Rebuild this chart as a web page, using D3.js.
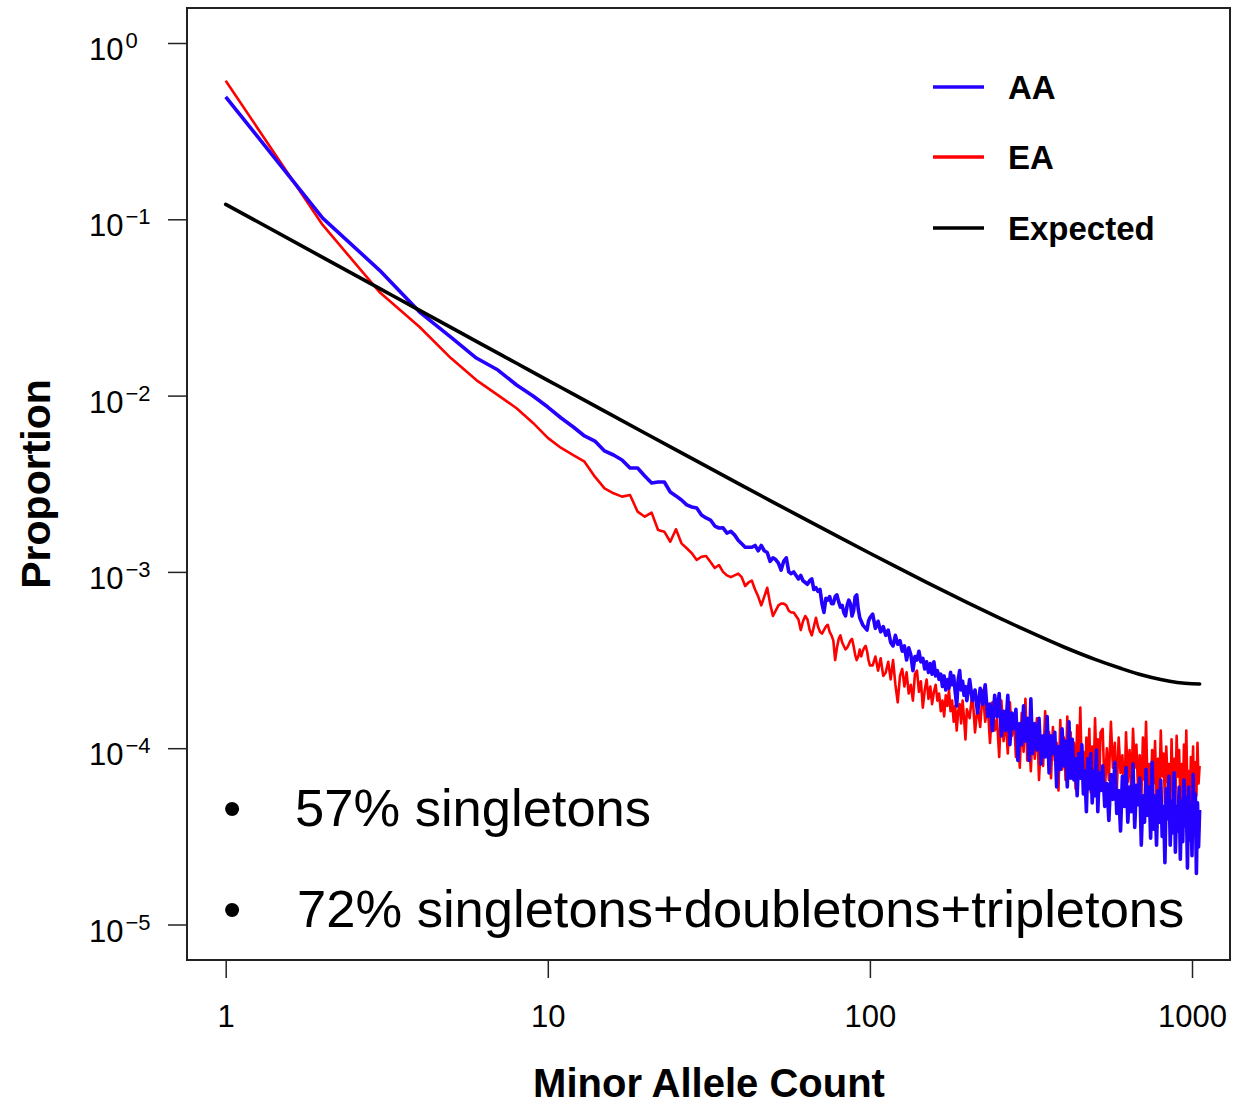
<!DOCTYPE html>
<html>
<head>
<meta charset="utf-8">
<script src="https://cdn.jsdelivr.net/npm/d3@7"></script>
<style>
  html, body { margin: 0; padding: 0; background: #fff; }
  svg { display: block; }
</style>
</head>
<body>
<svg id="chart" width="1234" height="1107"></svg>
<script>
// Minor allele counts shared by the two observed spectra
const counts = [
  1,2,3,4,5,6,7,8,9,10,11,12,13,14,15,16,17,18,19,20,21,22,23,24,25,26,27,28,29,30,31,32,33,34,
  35,36,37,38,39,40,41,42,43,44,45,46,47,48,49,50,51,52,53,54,55,56,57,58,59,60,61,62,63,64,
  65,66,67,68,69,70,71,72,73,74,75,76,77,78,79,80,81,82,83,84,85,86,87,88,89,90,91,92,93,94,
  95,96,97,98,99,100,
  102,104,106,108,110,112,114,116,118,120,122,124,126,128,130,132,134,136,138,140,
  142,144,146,148,150,152,154,156,158,160,162,164,166,168,170,172,174,176,178,180,
  182,184,186,188,190,192,194,196,198,200,
  204,208,212,216,220,224,228,232,236,240,244,248,252,256,260,264,268,272,276,280,
  284,288,292,296,300,304,308,312,316,320,
  325,330,335,340,345,350,355,360,365,370,375,380,385,390,395,400,405,410,415,420,
  425,430,435,440,445,450,455,460,465,470,475,480,485,490,495,500,505,510,515,520,
  528,536,544,552,560,568,576,584,592,600,608,616,624,632,640,648,656,664,672,680,
  688,696,704,712,720,728,736,744,752,760,768,776,784,792,800,808,816,824,832,840,
  848,856,864,872,880,888,896,904,912,920,928,936,944,952,960,968,976,984,992,1000,
  1008,1016,1024,1032,1040,1048,1056
];

// AA proportions, as log10 values
const aaLog10 = [
  -0.305,-0.993,-1.288,-1.526,-1.668,-1.787,-1.855,-1.940,-2.002,-2.065,-2.127,-2.178,-2.229,-2.258,-2.314,-2.337,-2.365,
  -2.411,-2.411,-2.456,-2.496,-2.490,-2.490,-2.547,-2.569,-2.592,-2.620,-2.632,-2.638,-2.677,-2.694,-2.706,-2.740,-2.751,
  -2.75,-2.78,-2.77,-2.79,-2.82,-2.84,-2.86,-2.86,-2.86,-2.85,
  -2.88,-2.85,-2.88,-2.89,-2.94,-2.92,-2.93,-2.95,-2.99,-2.94,
  -2.92,-3.00,-3.01,-3.00,-3.02,-3.04,-3.02,-3.05,-3.06,-3.07,
  -3.05,-3.04,-3.10,-3.09,-3.11,-3.10,-3.18,-3.23,-3.15,-3.16,
  -3.14,-3.18,-3.18,-3.14,-3.13,-3.17,-3.20,-3.19,-3.23,-3.25,
  -3.19,-3.16,-3.18,-3.25,-3.22,-3.14,-3.13,-3.21,-3.26,-3.28,
  -3.30,-3.31,-3.32,-3.33,-3.28,-3.26,
  -3.24,-3.32,-3.28,-3.34,-3.31,-3.36,-3.33,-3.40,-3.42,-3.36,
  -3.41,-3.39,-3.45,-3.42,-3.50,-3.43,-3.47,-3.56,-3.48,-3.50,
  -3.45,-3.51,-3.49,-3.55,-3.51,-3.57,-3.52,-3.58,-3.51,-3.59,
  -3.56,-3.61,-3.58,-3.65,-3.59,-3.67,-3.61,-3.66,-3.57,-3.64,
  -3.59,-3.68,-3.76,-3.61,-3.56,-3.67,-3.62,-3.70,-3.65,-3.73,
  -3.61,-3.73,-3.67,-3.80,-3.66,-3.75,-3.64,-3.82,-3.75,-3.90,
  -3.70,-3.82,-3.69,-3.93,-3.79,-3.90,-3.70,-3.98,-3.80,-3.89,
  -3.78,-4.07,-3.86,-3.98,-3.76,-3.96,-3.83,-4.07,-3.72,-4.03,
  -3.86,-4.01,-3.83,-4.09,-3.93,-4.05,-3.82,-4.14,-3.93,-4.03,
  -3.91,-4.22,-3.99,-4.12,-3.89,-4.10,-3.96,-4.22,-3.85,-4.17,
  -3.95,-4.18,-4.06,-4.27,-4.03,-4.17,-3.98,-4.26,-4.13,-4.36,
  -4.06,-4.23,-4.03,-4.31,-4.13,-4.27,-4.01,-4.36,-4.14,-4.24,
  -4.10,-4.33,-4.20,-4.41,-4.15,-4.29,-4.08,-4.37,-4.24,-4.47,
  -4.16,-4.33,-4.11,-4.42,-4.22,-4.36,-4.09,-4.45,-4.21,-4.32,
  -4.17,-4.55,-4.27,-4.42,-4.12,-4.38,-4.22,-4.51,-4.08,-4.46,
  -4.27,-4.55,-4.24,-4.42,-4.18,-4.50,-4.33,-4.65,-4.23,-4.40,
  -4.16,-4.55,-4.30,-4.48,-4.14,-4.59,-4.33,-4.47,-4.22,-4.63,
  -4.30,-4.53,-4.18,-4.44,-4.28,-4.68,-4.22,-4.52,-4.33,-4.61,
  -4.15,-4.47,-4.26,-4.71,-4.31,-4.56,-4.35
];

// EA proportions, as log10 values
const eaLog10 = [
  -0.214,-1.032,-1.412,-1.611,-1.787,-1.912,-1.997,-2.072,-2.155,-2.240,-2.297,-2.337,-2.375,-2.460,-2.526,-2.554,-2.573,
  -2.564,-2.658,-2.687,-2.664,-2.762,-2.772,-2.829,-2.758,-2.838,-2.866,-2.894,-2.932,-2.914,-2.910,-2.944,-2.978,-2.961,
  -3.00,-3.02,-3.03,-3.02,-3.01,-3.03,-3.08,-3.06,-3.05,-3.10,
  -3.14,-3.19,-3.14,-3.09,-3.18,-3.25,-3.22,-3.19,-3.18,-3.18,
  -3.19,-3.22,-3.23,-3.23,-3.25,-3.27,-3.33,-3.28,-3.25,-3.27,
  -3.33,-3.36,-3.31,-3.26,-3.31,-3.34,-3.35,-3.33,-3.31,-3.30,
  -3.34,-3.36,-3.39,-3.50,-3.43,-3.38,-3.36,-3.40,-3.42,-3.44,
  -3.43,-3.41,-3.39,-3.38,-3.42,-3.47,-3.50,-3.48,-3.44,-3.48,
  -3.45,-3.43,-3.42,-3.45,-3.50,-3.53,
  -3.53,-3.48,-3.56,-3.49,-3.59,-3.57,-3.51,-3.61,-3.50,-3.64,
  -3.74,-3.59,-3.55,-3.65,-3.57,-3.69,-3.64,-3.73,-3.58,-3.56,
  -3.68,-3.62,-3.77,-3.67,-3.61,-3.72,-3.65,-3.75,-3.68,-3.64,
  -3.73,-3.69,-3.79,-3.73,-3.82,-3.70,-3.76,-3.67,-3.79,-3.73,
  -3.85,-3.76,-3.90,-3.79,-3.75,-3.86,-3.73,-3.83,-3.95,-3.78,
  -3.83,-3.68,-3.91,-3.76,-3.88,-3.67,-3.85,-3.75,-3.97,-3.74,
  -3.90,-3.83,-4.05,-3.73,-3.96,-3.83,-4.03,-3.74,-3.93,-3.82,
  -4.05,-3.88,-4.11,-3.80,-4.02,-3.72,-4.07,-3.94,-4.13,-3.88,
  -4.06,-3.83,-4.18,-3.93,-4.10,-3.79,-4.04,-3.91,-4.17,-3.88,
  -4.07,-3.97,-4.24,-3.84,-4.12,-3.94,-4.18,-3.82,-4.05,-3.91,
  -4.17,-3.97,-4.23,-3.87,-4.11,-3.77,-4.16,-4.02,-4.22,-3.94,
  -4.13,-3.89,-4.25,-3.99,-4.17,-3.83,-4.09,-3.95,-4.23,-3.91,
  -3.89,-4.26,-4.00,-4.18,-3.85,-4.11,-3.97,-4.25,-3.94,-4.14,
  -4.04,-4.32,-3.91,-4.19,-4.01,-4.25,-3.89,-4.11,-3.98,-4.24,
  -4.04,-4.30,-3.94,-4.18,-3.85,-4.23,-4.09,-4.29,-4.01,-4.20,
  -3.96,-4.32,-4.06,-4.24,-3.90,-4.16,-4.03,-4.31,-3.99,-4.19,
  -4.09,-4.37,-3.95,-4.24,-4.06,-4.31,-3.93,-4.16,-4.01,-4.30,
  -4.09,-4.36,-3.98,-4.23,-3.90,-4.28,-4.13,-4.35,-4.05,-4.22,
  -3.99,-4.39,-4.08,-4.27,-3.97,-4.20,-4.10
];

// Expected (neutral) spectrum
const expCounts = [1,2,3,4,5,6,8,10,12,15,20,25,30,40,50,60,80,100,120,150,200,250,300,400,500,600,700,800,900,1000,1056];
const expProportion = [
  0.1216,0.06083,0.04057,0.03044,0.02437,0.02031,0.01525,0.01221,0.01019,0.00816,
  0.006135,0.00492,0.00411,0.003097,0.00249,0.002085,0.001579,0.001276,0.001074,0.000873,
  0.000672,0.000552,0.000473,0.000375,0.000319,0.000284,0.00026,0.000245,0.000236,0.000232,0.0002315
];

const xTicks = [1, 10, 100, 1000];
const yTickExps = [0, -1, -2, -3, -4, -5];
const seriesNames = ["AA", "EA", "Expected"];
const notes = ["57% singletons", "72% singletons+doubletons+tripletons"];

// Layout
const FONT = "'Liberation Sans', Arial, Helvetica, sans-serif";
const FRAME = { left: 187, right: 1230, top: 8, bottom: 960 };
const COLORS = { AA: "#2400ff", EA: "#ff0000", Expected: "#000000" };
const WIDTHS = { AA: 3.6, EA: 2.6, Expected: 3.6 };

const svg = d3.select("#chart");

const xScale = d3.scaleLog().domain([1, 1000]).range([225.7, 1192]);
const yScale = d3.scaleLog().domain([1e-5, 1]).range([924.5, 43]);

// Build series
const n = Math.min(counts.length, aaLog10.length, eaLog10.length);
const aa = d3.range(n).map(i => ({ x: counts[i], p: Math.pow(10, aaLog10[i]) }));
const ea = d3.range(n).map(i => ({ x: counts[i], p: Math.pow(10, eaLog10[i]) }));
const expected = expCounts.map((c, i) => ({ x: c, p: expProportion[i] }));

const line = d3.line().x(d => xScale(d.x)).y(d => yScale(d.p));
const smooth = d3.line().x(d => xScale(d.x)).y(d => yScale(d.p)).curve(d3.curveMonotoneX);

const plot = svg.append("g");

plot.append("path")
  .attr("d", line(ea))
  .attr("fill", "none")
  .attr("stroke", COLORS.EA)
  .attr("stroke-width", WIDTHS.EA)
  .attr("stroke-linejoin", "round");

plot.append("path")
  .attr("d", line(aa))
  .attr("fill", "none")
  .attr("stroke", COLORS.AA)
  .attr("stroke-width", WIDTHS.AA)
  .attr("stroke-linejoin", "round");

plot.append("path")
  .attr("d", smooth(expected))
  .attr("fill", "none")
  .attr("stroke", COLORS.Expected)
  .attr("stroke-width", WIDTHS.Expected)
  .attr("stroke-linecap", "round");

// Frame
svg.append("rect")
  .attr("x", FRAME.left)
  .attr("y", FRAME.top)
  .attr("width", FRAME.right - FRAME.left)
  .attr("height", FRAME.bottom - FRAME.top)
  .attr("fill", "none")
  .attr("stroke", "#222")
  .attr("stroke-width", 2);

// X axis
const xAxis = svg.append("g")
  .attr("transform", `translate(0,${FRAME.bottom})`)
  .call(d3.axisBottom(xScale).tickValues(xTicks).tickSize(18).tickPadding(27).tickFormat(d3.format("d")));
xAxis.select(".domain").remove();
xAxis.selectAll(".tick line").attr("stroke", "#222").attr("stroke-width", 1.5);
xAxis.selectAll(".tick text")
  .attr("font-family", FONT)
  .attr("font-size", 31)
  .attr("fill", "#000");

// Y axis
const yAxis = svg.append("g")
  .attr("transform", `translate(${FRAME.left},0)`)
  .call(d3.axisLeft(yScale).tickValues(yTickExps.map(e => Math.pow(10, e))).tickSize(19).tickFormat(""));
yAxis.select(".domain").remove();
yAxis.selectAll(".tick line").attr("stroke", "#222").attr("stroke-width", 1.5);

const yLabels = svg.append("g")
  .attr("font-family", FONT)
  .attr("fill", "#000");
yTickExps.forEach(e => {
  const t = yLabels.append("text")
    .attr("x", 89)
    .attr("y", yScale(Math.pow(10, e)) + 17);
  t.append("tspan").attr("font-size", 31).text("10");
  t.append("tspan")
    .attr("font-size", 22)
    .attr("dx", 2)
    .attr("dy", -12)
    .text(e === 0 ? "0" : "\u2212" + (-e));
});

// Axis titles
svg.append("text")
  .attr("x", 709)
  .attr("y", 1097)
  .attr("text-anchor", "middle")
  .attr("font-family", FONT)
  .attr("font-weight", "bold")
  .attr("font-size", 40)
  .text("Minor Allele Count");

svg.append("text")
  .attr("transform", "translate(50,484) rotate(-90)")
  .attr("text-anchor", "middle")
  .attr("font-family", FONT)
  .attr("font-weight", "bold")
  .attr("font-size", 41)
  .text("Proportion");

// Legend
const legendY = [87, 157, 228];
const legend = svg.append("g");
seriesNames.forEach((name, i) => {
  legend.append("line")
    .attr("x1", 933).attr("x2", 984)
    .attr("y1", legendY[i]).attr("y2", legendY[i])
    .attr("stroke", COLORS[name])
    .attr("stroke-width", 3.6);
  legend.append("text")
    .attr("x", 1008)
    .attr("y", legendY[i] + 12)
    .attr("font-family", FONT)
    .attr("font-weight", "bold")
    .attr("font-size", 33)
    .text(name);
});

// Notes
const noteY = [826, 927];
const noteX = [295, 297];
notes.forEach((txt, i) => {
  svg.append("text")
    .attr("x", 232)
    .attr("y", noteY[i])
    .attr("text-anchor", "middle")
    .attr("font-family", FONT)
    .attr("font-size", 52)
    .text("\u2022");
  svg.append("text")
    .attr("x", noteX[i])
    .attr("y", noteY[i])
    .attr("font-family", FONT)
    .attr("font-size", 52.5)
    .text(txt);
});
</script>
</body>
</html>
